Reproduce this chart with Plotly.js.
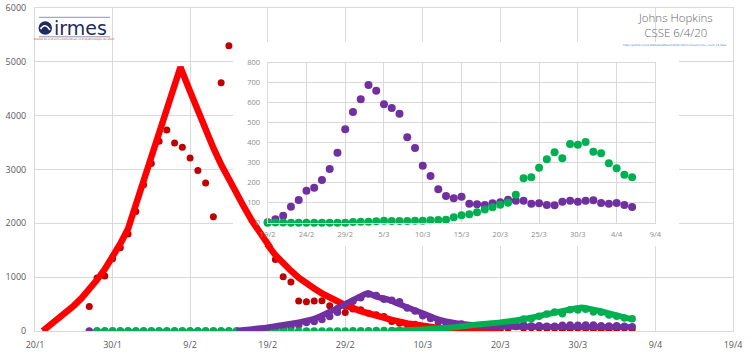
<!DOCTYPE html>
<html>
<head>
<meta charset="utf-8">
<script src="https://cdn.plot.ly/plotly-3.0.1.min.js"></script>
<style>
  html, body { margin: 0; padding: 0; background: #ffffff; }
  #chart { width: 754px; height: 362px; }
</style>
</head>
<body>
<div id="chart"></div>
<script>
// ---------------- DATA ----------------
const dayZero = '2020-01-20';              // day index 0
const mainTickDates  = ['2020-01-20','2020-01-30','2020-02-09','2020-02-19','2020-02-29','2020-03-10','2020-03-20','2020-03-30','2020-04-09','2020-04-19'];
const mainTickLabels = ['20/1','30/1','9/2','19/2','29/2','10/3','20/3','30/3','9/4','19/4'];
const insetTickDates  = ['2020-02-19','2020-02-24','2020-02-29','2020-03-05','2020-03-10','2020-03-15','2020-03-20','2020-03-25','2020-03-30','2020-04-04','2020-04-09'];
const insetTickLabels = ['19/2','24/2','29/2','5/3','10/3','15/3','20/3','25/3','30/3','4/4','9/4'];
const mainYTicks  = [0,1000,2000,3000,4000,5000,6000];
const insetYTicks = [0,100,200,300,400,500,600,700,800];

// daily points, red series: first day index 7 (27/1), null = no point
const redFirstDay = 7;
const redDaily = [455, 985, 1020, 1340, 1545, 1800, 2220, 2715, 3110, 3525, 3735, 3490, 3415, 3215, 2980, 2750, 2120, 4610, 5300,
  null, null, null, null, null,
  1330, 1010, 910, 555, 545, 555, 560, 470, 420, 345, 410, 395, 330, 300, 270, 175, 145, 120, 125, 75, 60, 40, 25, 20, 30, 25, 20,
  40, 45, 35, 50, 80, 50, 60, 55, 45, 50, 30, 40, 50, 45, 35, 30, 30, 40, 55, 35];

// purple daily points: first day index 7 (27/1)
const purpleFirstDay = 7;
const purpleDaily = [0,0,0,0,0,0,0,0,0,0,0,0,0,0,0,0,0,0,0,0,0,0,0,
  2, 17, 35, 80, 113, 160, 175, 213, 268, 350, 467, 553, 617, 688, 660, 592, 573, 545, 427, 373, 285, 233, 167, 133, 122, 130,
  95, 92, 88, 97, 102, 115, 110, 110, 95, 97, 88, 87, 105, 110, 105, 110, 112, 98, 95, 98, 88, 78];

// green daily points: first day index 8 (28/1)
const greenFirstDay = 8;
const greenDaily = [0,0,0,0,0,0,0,0,0,0,0,0,0,0,0,0,0,0,0,0,0,0,
  0, 1, 1, 0, 0, 0, 0, 0, 0, 0, 0, 3, 5, 5, 7, 10, 8, 8, 8, 10, 10, 12, 13, 15, 27, 37, 42, 52, 66, 77,
  90, 100, 140, 222, 227, 275, 317, 352, 322, 393, 390, 403, 355, 347, 297, 272, 240, 227];

// fitted curves (day index, value)
const redFitDay = [1, 2, 3, 4, 5, 6, 7, 8, 9, 10, 11, 12, 18.75, 20, 21, 22, 23, 24, 25, 26, 27, 28, 29, 30, 31, 32, 33, 34, 35,
  36, 37, 38, 39, 40, 42, 44, 46, 48, 50, 52, 54, 56, 58, 60];
const redFitVal = [0, 110, 220, 340, 470, 610, 770, 950, 1150, 1370, 1620, 1900, 4900, 4450, 4080, 3730, 3400, 3090, 2810, 2550,
  2290, 2040, 1810, 1600, 1410, 1250, 1120, 990, 880, 790, 700, 620, 545, 480, 370, 280, 205, 140, 90, 55, 35, 22, 14, 8];
const purpleFitDay = [26, 28, 30, 32, 34, 35.5, 37, 38.5, 40, 41.5, 42.9, 44, 45.7, 47.8, 50, 52.1, 54.3, 56.4, 60, 64, 70, 77];
const purpleFitVal = [5, 35, 65, 110, 160, 205, 290, 390, 500, 610, 700, 640, 575, 450, 330, 210, 145, 110, 85, 78, 72, 68];
const greenFitDay = [46, 50, 54, 57, 60, 63, 66, 69, 70.5, 72.5, 75, 77];
const greenFitVal = [5, 30, 70, 120, 160, 220, 310, 400, 435, 380, 290, 215];

// ---------------- helpers ----------------
const DAY = 86400000;
const t0 = Date.parse(dayZero + 'T00:00:00Z');
const dayToMs = d => t0 + d * DAY;
const seriesX = (first, arr) => arr.map((_, i) => dayToMs(first + i));
const insetFirstDay = 30;
const sliceFrom = (first, arr, day) => arr.slice(day - first);

// layout geometry (px on the 754x362 canvas)
const W = 754, H = 362;
const M = {l: 35, r: 21, t: 8, b: 31};
const PW = W - M.l - M.r, PH = H - M.t - M.b;
const px = x => (x - M.l) / PW;
const py = y => (H - M.b - y) / PH;
const mainX = [Date.parse('2020-01-20T00:00:00Z'), Date.parse('2020-04-19T00:00:00Z')];
const mainY = [0, 6000];
// white panel behind the inset
const boxDom = {x: [px(233), px(679)], y: [py(246), py(42)]};
const lin = (r, d) => r[0] + (r[1] - r[0]) * d;
const boxXRange = [lin(mainX, boxDom.x[0]), lin(mainX, boxDom.x[1])];
const boxYRange = [lin(mainY, boxDom.y[0]), lin(mainY, boxDom.y[1])];

const RED_DOT = '#c00000', RED_LINE = '#ff0000', PURPLE = '#7030a0', GREEN = '#00b050';
const GRID = '#d9d9d9';

const redFitX = redFitDay.map(dayToMs);
const traces = [
  // ---- main subplot ----
  {x: seriesX(redFirstDay, redDaily), y: redDaily, mode: 'markers', type: 'scatter',
   marker: {color: RED_DOT, size: 7}, xaxis: 'x', yaxis: 'y', hoverinfo: 'skip'},
  {x: seriesX(purpleFirstDay, purpleDaily), y: purpleDaily, mode: 'markers', type: 'scatter',
   marker: {color: PURPLE, size: 7.5}, xaxis: 'x', yaxis: 'y', hoverinfo: 'skip'},
  {x: seriesX(greenFirstDay, greenDaily), y: greenDaily, mode: 'markers', type: 'scatter',
   marker: {color: GREEN, size: 7.5}, xaxis: 'x', yaxis: 'y', hoverinfo: 'skip'},
  {x: redFitX, y: redFitVal, mode: 'lines', type: 'scatter',
   line: {color: RED_LINE, width: 6.5, shape: 'linear'}, xaxis: 'x', yaxis: 'y', hoverinfo: 'skip'},
  {x: purpleFitDay.map(dayToMs), y: purpleFitVal, mode: 'lines', type: 'scatter',
   line: {color: PURPLE, width: 6, shape: 'spline', smoothing: 0.5}, xaxis: 'x', yaxis: 'y', hoverinfo: 'skip'},
  {x: greenFitDay.map(dayToMs), y: greenFitVal, mode: 'lines', type: 'scatter',
   line: {color: GREEN, width: 6, shape: 'spline', smoothing: 0.5}, xaxis: 'x', yaxis: 'y', hoverinfo: 'skip'},
  // ---- white panel subplot: the red curve passes over it ----
  {x: redFitX, y: redFitVal, mode: 'lines', type: 'scatter',
   line: {color: RED_LINE, width: 6.5, shape: 'linear'}, xaxis: 'x2', yaxis: 'y2', hoverinfo: 'skip'},
  // ---- inset ----
  {x: seriesX(insetFirstDay, sliceFrom(purpleFirstDay, purpleDaily, insetFirstDay)),
   y: sliceFrom(purpleFirstDay, purpleDaily, insetFirstDay), mode: 'markers', type: 'scatter',
   marker: {color: PURPLE, size: 8}, xaxis: 'x3', yaxis: 'y3', hoverinfo: 'skip', cliponaxis: false},
  {x: seriesX(insetFirstDay, sliceFrom(greenFirstDay, greenDaily, insetFirstDay)),
   y: sliceFrom(greenFirstDay, greenDaily, insetFirstDay), mode: 'markers', type: 'scatter',
   marker: {color: GREEN, size: 8}, xaxis: 'x3', yaxis: 'y3', hoverinfo: 'skip', cliponaxis: false}
];

const tickFontMain = {family: 'Open Sans, sans-serif', size: 9, color: '#595959'};
const tickFontInset = {family: 'Open Sans, sans-serif', size: 7.5, color: '#8c8c8c'};

const layout = {
  width: W, height: H,
  margin: M,
  paper_bgcolor: '#ffffff', plot_bgcolor: '#ffffff',
  showlegend: false,
  xaxis: {type: 'date', domain: [0, 1], range: mainX, tickvals: mainTickDates, ticktext: mainTickLabels,
          showgrid: true, gridcolor: GRID, gridwidth: 1, showline: true, linecolor: GRID, linewidth: 1, mirror: true,
          zeroline: false, ticks: '', tickfont: tickFontMain, ticklabelstandoff: 5, fixedrange: true},
  yaxis: {domain: [0, 1], range: mainY, tickvals: mainYTicks, showgrid: true, gridcolor: GRID, gridwidth: 1,
          showline: true, linecolor: GRID, linewidth: 1, mirror: true, zeroline: false, ticks: '',
          tickfont: tickFontMain, ticklabelstandoff: 6, fixedrange: true},
  xaxis2: {type: 'date', domain: boxDom.x, range: boxXRange, anchor: 'y2', showgrid: false, zeroline: false,
           showline: false, showticklabels: false, ticks: '', fixedrange: true},
  yaxis2: {domain: boxDom.y, range: boxYRange, anchor: 'x2', showgrid: false, zeroline: false,
           showline: false, showticklabels: false, ticks: '', fixedrange: true},
  xaxis3: {type: 'date', domain: [px(267.67), px(655.4)], range: [insetTickDates[0], insetTickDates[insetTickDates.length - 1]],
           anchor: 'y3', tickvals: insetTickDates, ticktext: insetTickLabels, showgrid: true, gridcolor: GRID,
           showline: true, linecolor: GRID, mirror: true, zeroline: false, ticks: '', tickfont: tickFontInset,
           ticklabelstandoff: 4, fixedrange: true},
  yaxis3: {domain: [py(222.7), py(62.7)], range: [0, 800], anchor: 'x3', tickvals: insetYTicks, showgrid: true,
           gridcolor: GRID, showline: true, linecolor: GRID, mirror: true, zeroline: false, ticks: '',
           tickfont: tickFontInset, ticklabelstandoff: 5, fixedrange: true},
  annotations: [
    {xref: 'paper', yref: 'paper', x: px(675), y: py(40.5), xanchor: 'center', yanchor: 'bottom', showarrow: false,
     text: 'Johns Hopkins<br>CSSE 6/4/20', align: 'center', borderpad: 0,
     font: {family: 'Open Sans, sans-serif', size: 11.5, color: '#666666', weight: 300}},
    {xref: 'paper', yref: 'paper', x: px(675), y: py(42.5), xanchor: 'center', yanchor: 'top', showarrow: false,
     text: 'https://github.com/CSSEGISandData/COVID-19/tree/master/csse_covid_19_data', borderpad: 0,
     font: {family: 'DejaVu Sans, sans-serif', size: 2.6, color: '#4a7fd0'}},
    {xref: 'paper', yref: 'paper', x: px(52), y: py(28.5), xanchor: 'left', yanchor: 'middle', showarrow: false,
     text: 'irmes', font: {family: 'DejaVu Sans, sans-serif', size: 19, color: '#1f2c5e'}},
    {xref: 'paper', yref: 'paper', x: px(74), y: py(39.3), xanchor: 'center', yanchor: 'middle', showarrow: false,
     text: "Institut de recherche biomédicale et d'épidémiologie du sport", borderpad: 0,
     font: {family: 'DejaVu Sans, sans-serif', size: 2.6, color: '#c0392b'}}
  ],
  shapes: [
    {type: 'line', xref: 'paper', yref: 'paper', x0: px(39), x1: px(110), y0: py(17.3), y1: py(17.3),
     line: {color: '#8a93b5', width: 1}, layer: 'above'},
    {type: 'line', xref: 'paper', yref: 'paper', x0: px(39), x1: px(110), y0: py(36.8), y1: py(36.8),
     line: {color: '#8a93b5', width: 1}, layer: 'above'},
    {type: 'circle', xref: 'paper', yref: 'paper', x0: px(38.5), x1: px(52), y0: py(34.8), y1: py(21.3),
     fillcolor: '#1f2c5e', line: {width: 0}, layer: 'above'},
    {type: 'path', xref: 'paper', yref: 'paper', layer: 'above',
     path: 'M ' + px(40.5) + ' ' + py(29) + ' Q ' + px(45) + ' ' + py(22) + ' ' + px(50) + ' ' + py(30),
     line: {color: '#ffffff', width: 1.6}}
  ]
};

Plotly.newPlot('chart', traces, layout, {displayModeBar: false, staticPlot: true});
</script>
</body>
</html>
